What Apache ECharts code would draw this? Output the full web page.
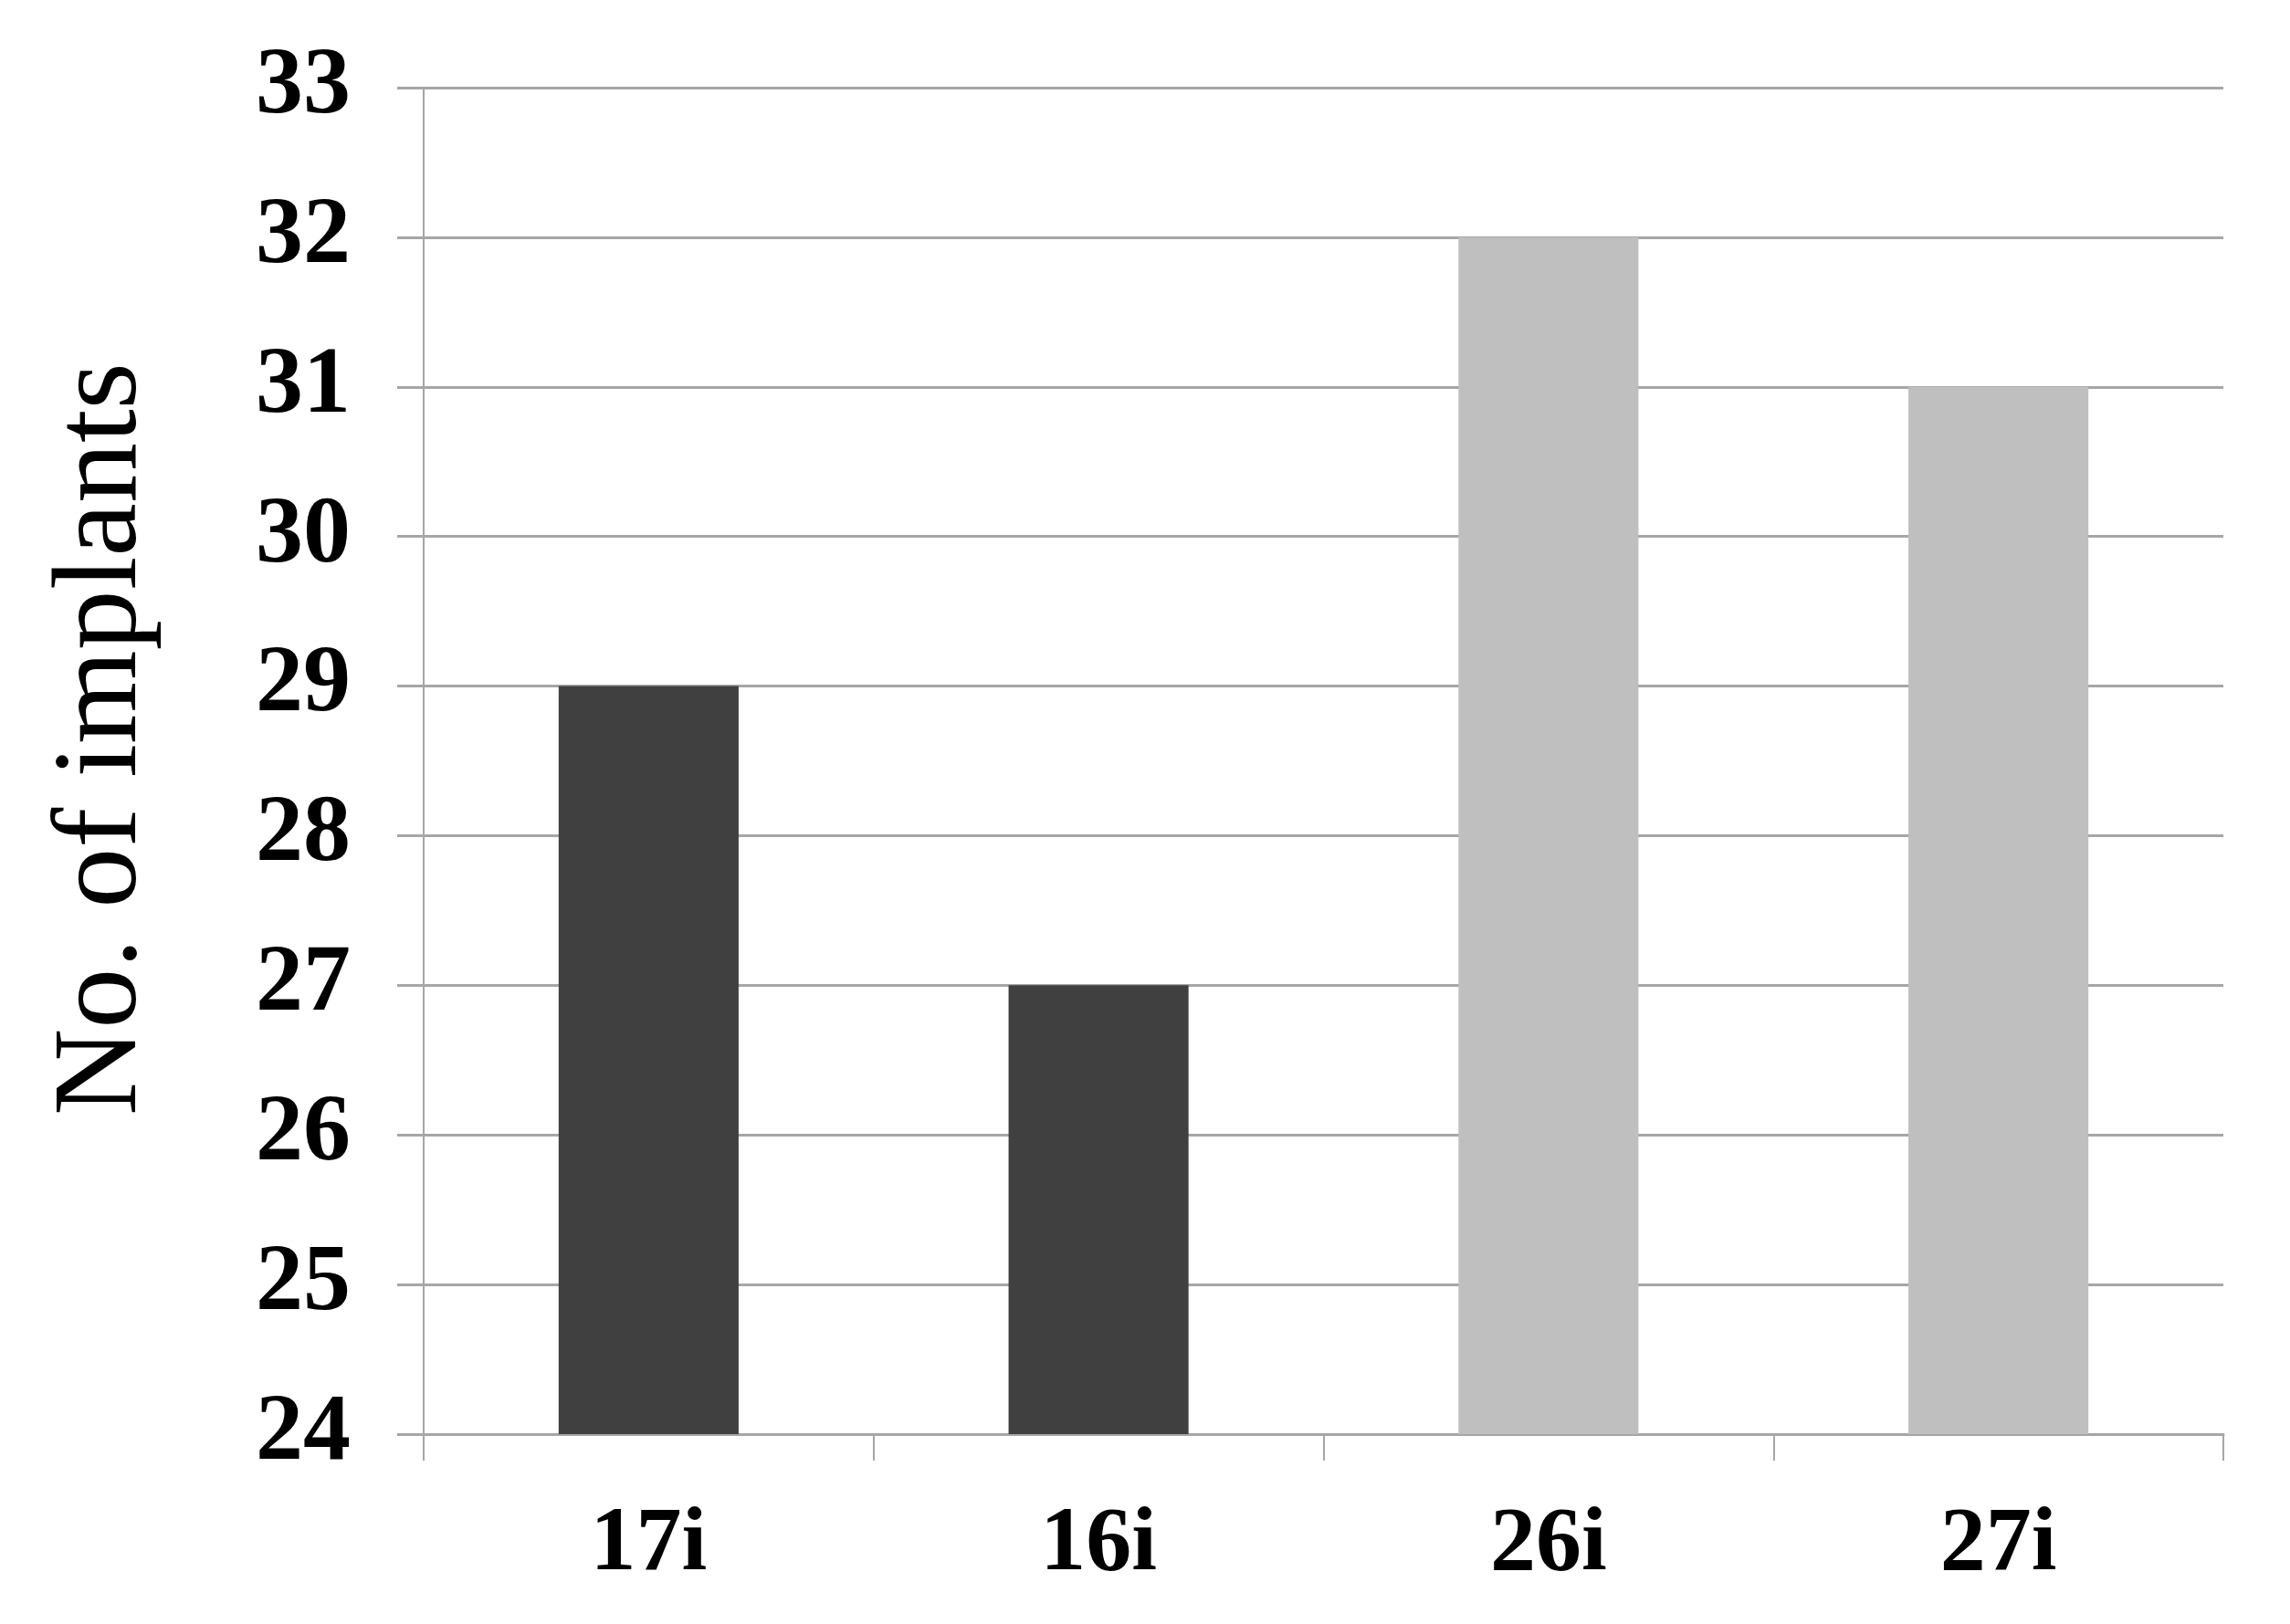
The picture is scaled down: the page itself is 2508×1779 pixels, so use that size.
<!DOCTYPE html>
<html>
<head>
<meta charset="utf-8">
<script src="https://cdn.jsdelivr.net/npm/echarts@6/dist/echarts.min.js"></script>
<style>html,body{margin:0;padding:0;background:#fff;}#c{width:2508px;height:1779px;}</style>
</head>
<body>
<div id="c"></div>
<script>
const categories = ['17i', '16i', '26i', '27i'];
const implants = [29, 27, 32, 31];
const barColors = ['#404040', '#404040', '#bfbfbf', '#bfbfbf'];
const yTicks = [24, 25, 26, 27, 28, 29, 30, 31, 32, 33];

const serif = '"Liberation Serif", "Times New Roman", Times, serif';
const chart = echarts.init(document.getElementById('c'));
chart.setOption({
  backgroundColor: '#ffffff',
  animation: false,
  grid: { left: 464, right: 73, top: 96, bottom: 208 },
  xAxis: {
    type: 'category',
    data: categories,
    axisLine: { show: true, lineStyle: { color: '#a6a6a6', width: 3 } },
    axisTick: { show: true, length: 29, lineStyle: { color: '#a6a6a6', width: 2 } },
    axisLabel: { margin: 72, fontFamily: serif, fontWeight: 'bold', fontSize: 100, color: '#000' }
  },
  yAxis: {
    type: 'value',
    min: yTicks[0],
    max: yTicks[yTicks.length - 1],
    interval: 1,
    name: 'No. of implants',
    nameLocation: 'middle',
    nameRotate: 90,
    nameGap: 285,
    nameTextStyle: { fontFamily: serif, fontSize: 132, color: '#000', padding: [0, 0, 0, 48] },
    axisLine: { show: true, lineStyle: { color: '#a6a6a6', width: 2 } },
    axisTick: { show: true, length: 29, lineStyle: { color: '#a6a6a6', width: 3 } },
    splitLine: { show: true, lineStyle: { color: '#a6a6a6', width: 3 } },
    axisLabel: { margin: 80, fontFamily: serif, fontWeight: 'bold', fontSize: 104, color: '#000' }
  },
  series: [{
    type: 'bar',
    data: implants.map((v, i) => ({ value: v, itemStyle: { color: barColors[i] } })),
    barWidth: '40%'
  }]
});
</script>
</body>
</html>
